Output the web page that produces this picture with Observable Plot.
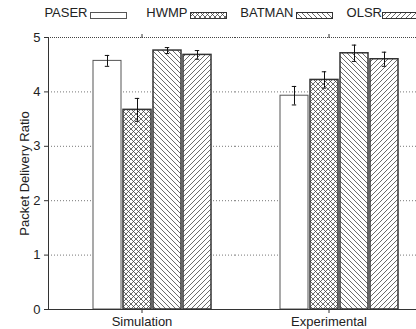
<!DOCTYPE html>
<html>
<head>
<meta charset="utf-8">
<script src="https://cdn.jsdelivr.net/npm/d3@7"></script>
<script src="https://cdn.jsdelivr.net/npm/@observablehq/plot@0.6"></script>
<style>
  html, body { margin: 0; padding: 0; background: #fff; }
  body { width: 416px; height: 329px; overflow: hidden; font-family: "Liberation Sans", Arial, sans-serif; }
  #legend { position: relative; width: 416px; height: 24px; overflow: hidden; }
  #legend .lt { position: absolute; top: 5px; font-size: 13px; color: #222; white-space: nowrap; line-height: 16px; }
  #legend svg { position: absolute; top: 12px; overflow: visible; }
</style>
</head>
<body>
<div id="legend"></div>
<div id="chart"></div>
<script>
// ---- data ----
const categories = ["Simulation", "Experimental"];
const series = ["PASER", "HWMP", "BATMAN", "OLSR"];
const simulationValues = [4.57, 3.67, 4.76, 4.68];
const simulationErrors = [0.10, 0.21, 0.055, 0.08];
const experimentalValues = [3.93, 4.22, 4.71, 4.60];
const experimentalErrors = [0.17, 0.15, 0.15, 0.13];
const yTicks = [0, 1, 2, 3, 4, 5];
const yLabel = "Packet Delivery Ratio";

// ---- styles ----
const fills = ["#ffffff", "url(#pat-hwmp)", "url(#pat-batman)", "url(#pat-olsr)"];
const ink = "#333";

const rows = [];
categories.forEach((c, ci) => {
  const vals = ci === 0 ? simulationValues : experimentalValues;
  const errs = ci === 0 ? simulationErrors : experimentalErrors;
  series.forEach((s, si) => rows.push({cat: c, series: s, value: vals[si], lo: vals[si] - errs[si], hi: vals[si] + errs[si]}));
});

const patternDefs = `
  <pattern id="pat-hwmp" patternUnits="userSpaceOnUse" width="5" height="5">
    <rect width="5" height="5" fill="#fff"/>
    <path d="M-1,-1L6,6M6,-1L-1,6" stroke="#3a3a3a" stroke-width="0.75" fill="none"/>
  </pattern>
  <pattern id="pat-batman" patternUnits="userSpaceOnUse" width="5" height="5">
    <rect width="5" height="5" fill="#fff"/>
    <path d="M-1,-1L6,6M-1,4L1,6M4,-1L6,1" stroke="#3a3a3a" stroke-width="0.75" fill="none"/>
  </pattern>
  <pattern id="pat-olsr" patternUnits="userSpaceOnUse" width="5" height="5">
    <rect width="5" height="5" fill="#fff"/>
    <path d="M-1,6L6,-1M-1,1L1,-1M4,6L6,4" stroke="#3a3a3a" stroke-width="0.75" fill="none"/>
  </pattern>`;

// hidden defs holder for legend swatches
const defsHolder = document.createElementNS("http://www.w3.org/2000/svg", "svg");
defsHolder.setAttribute("width", 0); defsHolder.setAttribute("height", 0);
defsHolder.style.position = "absolute";
defsHolder.innerHTML = `<defs>${patternDefs}</defs>`;
document.body.appendChild(defsHolder);

// ---- legend ----
const legend = document.getElementById("legend");
const swatchLeft = [90, 190, 296, 382];
series.forEach((s, i) => {
  const t = document.createElement("span");
  t.className = "lt";
  t.textContent = s;
  t.style.right = (416 - swatchLeft[i] + (i === 3 ? 0 : 2.5)) + "px";
  legend.appendChild(t);
  const sw = document.createElementNS("http://www.w3.org/2000/svg", "svg");
  sw.setAttribute("width", 37); sw.setAttribute("height", 7);
  sw.style.left = swatchLeft[i] + "px";
  sw.innerHTML = `<rect x="0.5" y="0.5" width="36" height="6" fill="${fills[i]}" stroke="${i === 0 ? '#555' : ink}" stroke-width="1"/>`;
  legend.appendChild(sw);
});

// ---- chart ----
const chart = Plot.plot({
  width: 416,
  height: 305,
  marginTop: 13,
  marginBottom: 20,
  marginLeft: 47,
  marginRight: -6,
  style: {fontFamily: "'Liberation Sans', Arial, sans-serif", fontSize: "13px", color: "#222", background: "white"},
  fx: {domain: categories, paddingInner: 0, paddingOuter: 0, label: null},
  x: {domain: series, paddingInner: 0.08, paddingOuter: 1.064, align: 0.65, axis: null},
  y: {domain: [0, 5], ticks: yTicks},
  color: {domain: series, range: fills},
  marks: [
    Plot.gridY([1, 2, 3, 4], {stroke: "#777", strokeOpacity: 1, strokeDasharray: "1,2"}),
    Plot.gridY([5], {stroke: "#444", strokeOpacity: 1, strokeDasharray: "1,1"}),
    Plot.barY(rows.filter(d => d.series === "PASER"), {fx: "cat", x: "series", y: "value", fill: "series", stroke: "#555", strokeWidth: 1}),
    Plot.barY(rows.filter(d => d.series !== "PASER"), {fx: "cat", x: "series", y: "value", fill: "series", stroke: ink, strokeWidth: 1.5}),
    Plot.ruleX(rows, {fx: "cat", x: "series", y1: "lo", y2: "hi", stroke: "#111", strokeWidth: 1}),
    Plot.tickY(rows, {fx: "cat", x: "series", y: "lo", stroke: "#111", strokeWidth: 1, insetLeft: 11.8, insetRight: 11.8}),
    Plot.tickY(rows, {fx: "cat", x: "series", y: "hi", stroke: "#111", strokeWidth: 1, insetLeft: 11.8, insetRight: 11.8}),
    Plot.ruleY([0], {stroke: ink, strokeWidth: 1}),
    Plot.frame({anchor: "left", facetAnchor: "left", stroke: ink, strokeWidth: 1}),
    Plot.axisY({ticks: yTicks, tickSize: 4, tickPadding: 4, tickFormat: d => String(d), label: yLabel, labelAnchor: "center", labelOffset: 29, labelArrow: "none", stroke: ink}),
    Plot.axisFx({anchor: "bottom", tickSize: 4, tickPadding: 3, label: null, stroke: ink}),
    Plot.axisFx({anchor: "top", tickSize: 4, tickFormat: () => "", label: null, stroke: ink})
  ]
});
const defs = document.createElementNS("http://www.w3.org/2000/svg", "defs");
defs.innerHTML = patternDefs;
chart.insertBefore(defs, chart.firstChild);
document.getElementById("chart").appendChild(chart);
</script>
</body>
</html>
